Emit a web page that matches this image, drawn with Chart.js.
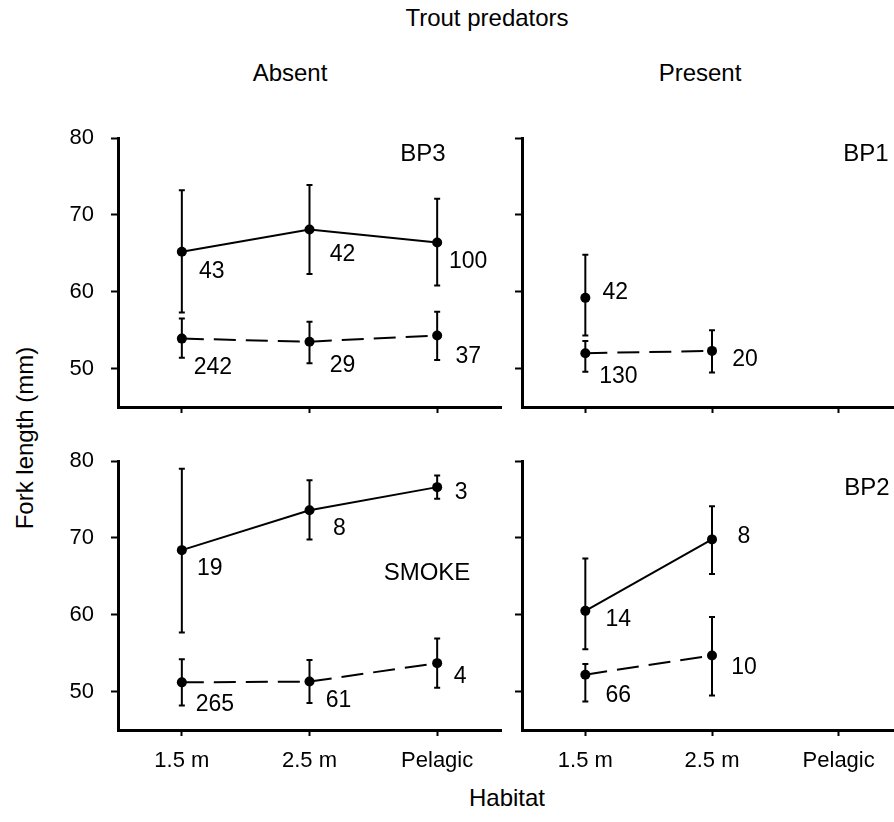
<!DOCTYPE html>
<html>
<head>
<meta charset="utf-8">
<title>Fork length by habitat, trout predators absent / present</title>
<script src="https://cdn.jsdelivr.net/npm/chart.js@4.4.1/dist/chart.umd.min.js"></script>
<style>
  html, body { margin: 0; padding: 0; background: #fff; overflow: hidden; }
  #fig {
    position: relative; width: 894px; height: 822px; overflow: hidden; background: #fff;
    font-family: 'Liberation Sans', Arial, Helvetica, sans-serif; color: #000;
  }
  #fig canvas { position: absolute; }
  .txt { position: absolute; white-space: nowrap; line-height: 1; transform: translateX(-50%); }
</style>
</head>
<body>
<div id="fig">
  <div class="txt" style="left:487px; top:6px; font-size:24px;">Trout predators</div>
  <div class="txt" style="left:290px; top:61px; font-size:24px;">Absent</div>
  <div class="txt" style="left:700px; top:61px; font-size:24px;">Present</div>
  <div class="txt" style="left:25px; top:438px; font-size:24px; transform:translate(-50%,-50%) rotate(-90deg);">Fork length (mm)</div>
  <div class="txt" style="left:507px; top:786px; font-size:24px;">Habitat</div>

  <canvas id="pTL" width="506" height="295" style="left:0; top:124px;"></canvas>
  <canvas id="pTR" width="405" height="295" style="left:502px; top:124px;"></canvas>
  <canvas id="pBL" width="506" height="330" style="left:0; top:447px;"></canvas>
  <canvas id="pBR" width="405" height="330" style="left:502px; top:447px;"></canvas>

  <div class="txt" style="left:423px; top:141px; font-size:24px;">BP3</div>
  <div class="txt" style="left:866px; top:141px; font-size:24px;">BP1</div>
  <div class="txt" style="left:427px; top:560px; font-size:24px;">SMOKE</div>
  <div class="txt" style="left:867px; top:475px; font-size:24px;">BP2</div>
</div>

<script>
// categories and axis ticks
const habitats = ['1.5 m', '2.5 m', 'Pelagic'];
const yTicks = [50, 60, 70, 80];

// BP3 - trout absent (solid = upper group, dashed = lower group)
const bp3SolidMean = [65.2, 68.1, 66.4];
const bp3SolidLow  = [57.3, 62.3, 60.8];
const bp3SolidHigh = [73.2, 73.9, 72.1];
const bp3SolidN    = ['43', '42', '100'];
const bp3DashMean  = [53.9, 53.5, 54.3];
const bp3DashLow   = [51.4, 50.7, 51.1];
const bp3DashHigh  = [56.5, 56.1, 57.4];
const bp3DashN     = ['242', '29', '37'];

// BP1 - trout present
const bp1SolidMean = [59.2, null, null];
const bp1SolidLow  = [54.3, null, null];
const bp1SolidHigh = [64.8, null, null];
const bp1SolidN    = ['42', null, null];
const bp1DashMean  = [52.0, 52.3, null];
const bp1DashLow   = [49.6, 49.5, null];
const bp1DashHigh  = [53.6, 55.0, null];
const bp1DashN     = ['130', '20', null];

// SMOKE - trout absent
const smokeSolidMean = [68.4, 73.6, 76.6];
const smokeSolidLow  = [57.7, 69.8, 75.1];
const smokeSolidHigh = [79.0, 77.5, 78.1];
const smokeSolidN    = ['19', '8', '3'];
const smokeDashMean  = [51.2, 51.3, 53.7];
const smokeDashLow   = [48.2, 48.5, 50.5];
const smokeDashHigh  = [54.2, 54.1, 56.9];
const smokeDashN     = ['265', '61', '4'];

// BP2 - trout present
const bp2SolidMean = [60.5, 69.8, null];
const bp2SolidLow  = [55.5, 65.3, null];
const bp2SolidHigh = [67.3, 74.1, null];
const bp2SolidN    = ['14', '8', null];
const bp2DashMean  = [52.2, 54.7, null];
const bp2DashLow   = [48.7, 49.5, null];
const bp2DashHigh  = [53.6, 59.7, null];
const bp2DashN     = ['66', '10', null];

const FONT = "'Liberation Sans', Arial, Helvetica, sans-serif";

// error bars drawn from lo/hi of every point
const errorBars = {
    id: 'errorBars',
    beforeDatasetsDraw(chart) {
        const ctx = chart.ctx;
        const x = chart.scales.x, y = chart.scales.y;
        ctx.save();
        ctx.strokeStyle = '#000';
        ctx.lineWidth = 2;
        chart.data.datasets.forEach(ds => {
            ds.data.forEach(p => {
                const px = x.getPixelForValue(p.x);
                const top = y.getPixelForValue(p.hi);
                const bot = y.getPixelForValue(p.lo);
                ctx.beginPath();
                ctx.moveTo(px, top); ctx.lineTo(px, bot);
                ctx.moveTo(px - 3, top); ctx.lineTo(px + 3, top);
                ctx.moveTo(px - 3, bot); ctx.lineTo(px + 3, bot);
                ctx.stroke();
            });
        });
        ctx.restore();
    }
};

// sample sizes next to the points
const countLabels = {
    id: 'countLabels',
    afterDatasetsDraw(chart) {
        const ctx = chart.ctx;
        ctx.save();
        ctx.fillStyle = '#000';
        ctx.font = '23px ' + FONT;
        ctx.textAlign = 'center';
        ctx.textBaseline = 'middle';
        chart.data.datasets.forEach((ds, di) => {
            const meta = chart.getDatasetMeta(di);
            ds.data.forEach((p, i) => {
                const el = meta.data[i];
                const off = ds.labelOffsets[i];
                ctx.fillText(p.n, el.x + off[0], el.y + off[1]);
            });
        });
        ctx.restore();
    }
};

function series(mean, low, high, n, dashed, offsets) {
    const pts = [];
    mean.forEach((v, i) => {
        if (v !== null) pts.push({ x: i + 0.5, y: v, lo: low[i], hi: high[i], n: n[i] });
    });
    return {
        data: pts,
        borderColor: '#000',
        backgroundColor: '#000',
        borderWidth: 2,
        borderDash: dashed ? [22, 10] : [],
        pointRadius: 5,
        pointBorderWidth: 0,
        pointBackgroundColor: '#000',
        tension: 0,
        labelOffsets: offsets
    };
}

function makePanel(id, yWidth, xHeight, showX, showY, datasets) {
    const tickFont = { family: FONT, size: 22 };
    new Chart(document.getElementById(id), {
        type: 'line',
        data: { datasets: datasets },
        options: {
            responsive: false,
            animation: false,
            devicePixelRatio: 1,
            layout: { padding: { top: 14, right: 4, bottom: 0, left: 0 } },
            plugins: { legend: { display: false }, tooltip: { enabled: false } },
            scales: {
                x: {
                    type: 'linear', min: 0, max: 3,
                    afterBuildTicks: s => { s.ticks = habitats.map((h, i) => ({ value: i + 0.5 })); },
                    afterFit: s => { s.height = xHeight; s.paddingLeft = 0; s.paddingRight = 0; },
                    ticks: {
                        display: showX, color: '#000', font: tickFont, padding: 12,
                        maxRotation: 0, autoSkip: false,
                        callback: (v, i) => habitats[i]
                    },
                    grid: { drawOnChartArea: false, drawTicks: true, tickLength: 6, tickWidth: 2, tickColor: '#000' },
                    border: { display: true, color: '#000', width: 3 }
                },
                y: {
                    type: 'linear', min: 45, max: 80,
                    afterBuildTicks: s => { s.ticks = yTicks.map(v => ({ value: v })); },
                    afterFit: s => { s.width = yWidth; s.paddingTop = 0; s.paddingBottom = 0; },
                    ticks: { display: showY, color: '#000', font: tickFont, padding: 17 },
                    grid: { drawOnChartArea: false, drawTicks: true, tickLength: 7, tickWidth: 2, tickColor: '#000' },
                    border: { display: true, color: '#000', width: 3 }
                }
            }
        },
        plugins: [errorBars, countLabels]
    });
}

document.addEventListener('DOMContentLoaded', function() {
    makePanel('pTL', 118, 12, false, true, [
        series(bp3SolidMean, bp3SolidLow, bp3SolidHigh, bp3SolidN, false, [[30, 20], [33, 25], [31, 19]]),
        series(bp3DashMean, bp3DashLow, bp3DashHigh, bp3DashN, true, [[31, 29], [33, 24], [31, 21]])
    ]);
    makePanel('pTR', 20, 12, false, false, [
        series(bp1SolidMean, bp1SolidLow, bp1SolidHigh, bp1SolidN, false, [[30, -5]]),
        series(bp1DashMean, bp1DashLow, bp1DashHigh, bp1DashN, true, [[33, 23], [33, 9]])
    ]);
    makePanel('pBL', 118, 47, true, true, [
        series(smokeSolidMean, smokeSolidLow, smokeSolidHigh, smokeSolidN, false, [[28, 19], [30, 18], [24, 6]]),
        series(smokeDashMean, smokeDashLow, smokeDashHigh, smokeDashN, true, [[33, 22], [29, 19], [23, 14]])
    ]);
    makePanel('pBR', 20, 47, true, false, [
        series(bp2SolidMean, bp2SolidLow, bp2SolidHigh, bp2SolidN, false, [[33, 9], [32, -3]]),
        series(bp2DashMean, bp2DashLow, bp2DashHigh, bp2DashN, true, [[33, 21], [32, 12]])
    ]);
});
</script>
</body>
</html>
